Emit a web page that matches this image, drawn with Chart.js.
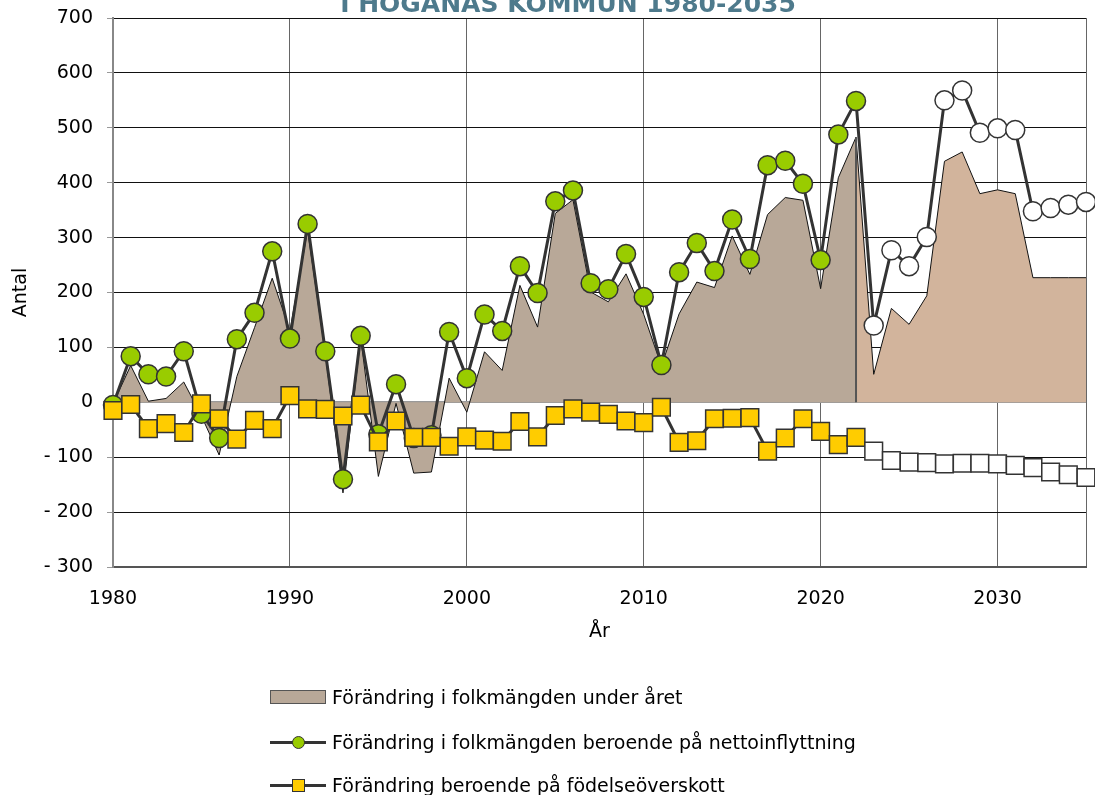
<!DOCTYPE html>
<html>
<head>
<meta charset="utf-8">
<script src="https://cdn.jsdelivr.net/npm/chart.js@4.4.1/dist/chart.umd.min.js"></script>
<style>
    body { margin: 0; background: #fff; overflow: hidden; }
    #wrap { position: relative; width: 1095px; height: 795px; overflow: hidden; }
    #chart { position: absolute; left: 0; top: 0; }
    #title {
        position: absolute; left: 0; top: -9px; width: 1136px;
        text-align: center; white-space: nowrap;
        font: bold 25px/25px "DejaVu Sans", sans-serif; color: #4e7a8c;
    }
    .leg { position: absolute; left: 270px; height: 24px; font: 19px/24px "DejaVu Sans", sans-serif; color: #000; white-space: nowrap; }
    .leg .sym { position: absolute; left: 0; top: 0; width: 56px; height: 24px; }
    .leg .txt { position: absolute; left: 62px; top: 0; }
    .box { position: absolute; left: 0; top: 5px; width: 54px; height: 12px; background: #b8a898; border: 1px solid #555; }
    .ln { position: absolute; left: 0; top: 11px; width: 56px; height: 3px; background: #333; }
    .dot { position: absolute; left: 22px; top: 6px; width: 11px; height: 11px; border-radius: 50%; background: #99cc00; border: 1px solid #333; }
    .sq { position: absolute; left: 22px; top: 6px; width: 11px; height: 11px; background: #ffcc00; border: 1px solid #333; }
</style>
</head>
<body>
<div id="wrap">
    <canvas id="chart" width="1095" height="795"></canvas>
    <div id="title">I HÖGANÄS KOMMUN 1980-2035</div>
    <div class="leg" style="top:685px"><div class="sym"><div class="box"></div></div><div class="txt">Förändring i folkmängden under året</div></div>
    <div class="leg" style="top:730px"><div class="sym"><div class="ln"></div><div class="dot"></div></div><div class="txt">Förändring i folkmängden beroende på nettoinflyttning</div></div>
    <div class="leg" style="top:773px"><div class="sym"><div class="ln"></div><div class="sq"></div></div><div class="txt">Förändring beroende på födelseöverskott</div></div>
</div>
<script>
const years = [
    1980, 1981, 1982, 1983, 1984, 1985, 1986, 1987, 1988, 1989,
    1990, 1991, 1992, 1993, 1994, 1995, 1996, 1997, 1998, 1999,
    2000, 2001, 2002, 2003, 2004, 2005, 2006, 2007, 2008, 2009,
    2010, 2011, 2012, 2013, 2014, 2015, 2016, 2017, 2018, 2019,
    2020, 2021, 2022, 2023, 2024, 2025, 2026, 2027, 2028, 2029,
    2030, 2031, 2032, 2033, 2034, 2035
];
const lastOutcomeYear = 2022; // after this: prognos

// förändring i folkmängden under året (area)
const totalChange = [
    -3, 67, 2, 7, 37, -25, -96, 47, 136, 226,
    130, 314, 89, -165, 118, -135, -2, -129, -127, 44,
    -18, 92, 58, 213, 137, 344, 369, 201, 183, 234,
    160, 66, 161, 219, 209, 303, 233, 342, 373, 368,
    207, 409, 483, 51, 171, 142, 194, 439, 456, 380,
    387, 380, 227, 227, 227, 227
];

// beroende på nettoinflyttning (cirklar)
const netMigration = [
    -5, 84, 51, 47, 93, -21, -65, 115, 163, 275,
    116, 325, 93, -140, 121, -58, 33, -65, -60, 128,
    44, 160, 130, 248, 199, 366, 386, 217, 206, 270,
    192, 68, 237, 290, 239, 333, 261, 432, 440, 398,
    259, 488, 549, 140, 277, 248, 301, 550, 568, 491,
    499, 496, 348, 354, 360, 365
];

// beroende på födelseöverskott (kvadrater)
const birthSurplus = [
    -15, -4, -48, -39, -55, -3, -30, -67, -33, -48,
    12, -12, -13, -25, -5, -72, -34, -64, -64, -80,
    -63, -69, -71, -35, -63, -24, -12, -18, -22, -34,
    -37, -9, -73, -70, -30, -29, -28, -89, -65, -30,
    -53, -77, -64, -89, -106, -109, -110, -112, -111, -111,
    -112, -115, -119, -127, -132, -137
];

const xTicks = [1980, 1990, 2000, 2010, 2020, 2030];
const yMin = -300, yMax = 700, yStep = 100;

const pts = vals => years.map((yr, i) => ({ x: yr, y: vals[i] }));
const outcomeArea = pts(totalChange).filter(p => p.x <= lastOutcomeYear);
const prognosArea = pts(totalChange).filter(p => p.x >= lastOutcomeYear);

// vertical edge between utfall and prognos area
const splitLine = {
    id: "splitLine",
    afterDatasetDraw(chart, args) {
        if (args.index !== 1) return;
        const { ctx, scales } = chart;
        const i = years.indexOf(lastOutcomeYear);
        const x = scales.x.getPixelForValue(lastOutcomeYear);
        ctx.save();
        ctx.strokeStyle = "#555";
        ctx.lineWidth = 2;
        ctx.beginPath();
        ctx.moveTo(x, scales.y.getPixelForValue(0));
        ctx.lineTo(x, scales.y.getPixelForValue(totalChange[i]));
        ctx.stroke();
        ctx.restore();
    }
};

const ctx = document.getElementById("chart").getContext("2d");
new Chart(ctx, {
    type: "line",
    data: {
        datasets: [
            {
                data: outcomeArea, fill: "origin",
                backgroundColor: "#b8a898", borderColor: "#111", borderWidth: 1,
                pointRadius: 0, tension: 0, order: 4
            },
            {
                data: prognosArea, fill: "origin",
                backgroundColor: "#d2b49c", borderColor: "#111", borderWidth: 1,
                pointRadius: 0, tension: 0, order: 3
            },
            {
                data: pts(netMigration),
                borderColor: "#333", borderWidth: 3, tension: 0, clip: false,
                pointStyle: "circle", pointRadius: 9.5, pointBorderWidth: 1.5,
                pointBorderColor: "#333",
                pointBackgroundColor: years.map(y => y <= lastOutcomeYear ? "#99cc00" : "#fff"),
                order: 2
            },
            {
                data: pts(birthSurplus),
                borderColor: "#333", borderWidth: 3, tension: 0, clip: false,
                pointStyle: "rect", pointRadius: 12.5, pointBorderWidth: 1.5,
                pointBorderColor: "#333",
                pointBackgroundColor: years.map(y => y <= lastOutcomeYear ? "#ffcc00" : "#fff"),
                order: 1
            }
        ]
    },
    options: {
        responsive: false,
        animation: false,
        layout: { autoPadding: false, padding: { top: 18, right: 9, bottom: 148, left: 0 } },
        plugins: {
            legend: { display: false },
            tooltip: { enabled: false }
        },
        scales: {
            x: {
                type: "linear",
                min: 1980, max: 2035,
                afterBuildTicks(scale) {
                    scale.ticks = xTicks.map(v => ({ value: v })).concat([{ value: 2035 }]);
                },
                afterFit(scale) {
                    scale.height = 80;
                    scale.paddingLeft = 0;
                    scale.paddingRight = 0;
                },
                ticks: {
                    autoSkip: false, maxRotation: 0, padding: 21,
                    color: "#000", font: { family: "DejaVu Sans", size: 19 },
                    callback: v => xTicks.includes(v) ? String(v) : ""
                },
                grid: { color: "#666", lineWidth: 1, drawTicks: false },
                border: { color: "#555", width: 2 },
                title: {
                    display: true, text: "År", color: "#000",
                    font: { family: "DejaVu Sans", size: 19 }, padding: { top: 3 }
                }
            },
            y: {
                min: yMin, max: yMax,
                afterFit(scale) {
                    scale.width = 113;
                    scale.paddingTop = 0;
                    scale.paddingBottom = 0;
                },
                ticks: {
                    stepSize: yStep, padding: 14, color: "#000",
                    font: { family: "DejaVu Sans", size: 19 },
                    callback: v => v < 0 ? "- " + Math.abs(v) : String(v)
                },
                grid: {
                    color: c => c.tick && c.tick.value === 0 ? "#999" : "#111",
                    lineWidth: c => c.tick && c.tick.value === 0 ? 2 : 1,
                    tickLength: 6, tickColor: "#999"
                },
                border: { color: "#888", width: 2 },
                title: {
                    display: true, text: "Antal", color: "#000",
                    font: { family: "DejaVu Sans", size: 19 }, padding: { top: 10, bottom: 0 }
                }
            }
        }
    },
    plugins: [splitLine]
});
</script>
</body>
</html>
